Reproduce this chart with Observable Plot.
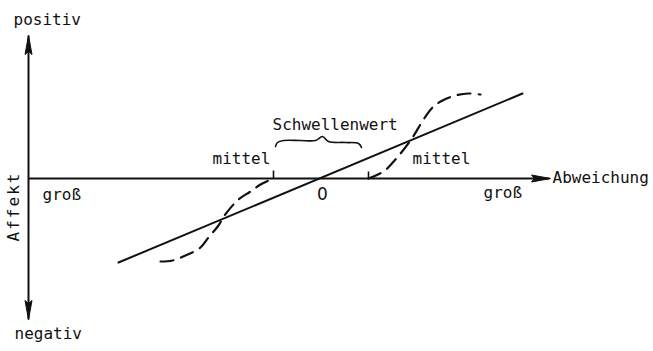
<!DOCTYPE html>
<html>
<head>
<meta charset="utf-8">
<script src="https://cdn.jsdelivr.net/npm/d3@7"></script>
<script src="https://cdn.jsdelivr.net/npm/@observablehq/plot@0.6"></script>
<style>
  html, body { margin: 0; padding: 0; background: #fff; }
  #chart svg { display: block; }
</style>
</head>
<body>
<div id="chart"></div>
<script>
// Coordinates: x = deviation (Abweichung), y = affect (Affekt); origin at "0"
const axisSegments = [
  {x1: -292, y1: -141, x2: -292, y2: 143},   // Affekt axis
  {x1: -292, y1: 0, x2: 229, y2: 0}          // Abweichung axis
];
const arrowTips = [
  {x: -292, y: 143, rotate: 0},
  {x: -292, y: -141, rotate: 180},
  {x: 230, y: 0, rotate: 90}
];
const linearLine = [
  {x: -202, y: -84},
  {x: 202, y: 85}
];
const dashedLeft = [
  {x: -160, y: -83}, {x: -148, y: -82}, {x: -135, y: -77}, {x: -120, y: -69},
  {x: -112, y: -59}, {x: -102, y: -47}, {x: -96, y: -37}, {x: -82, y: -21},
  {x: -70, y: -13}, {x: -60, y: -6}, {x: -47, y: 0}
];
const dashedRight = [
  {x: 48, y: 0}, {x: 63, y: 7}, {x: 75, y: 19}, {x: 92, y: 41},
  {x: 103, y: 59}, {x: 113, y: 72}, {x: 122, y: 78}, {x: 135, y: 83},
  {x: 148, y: 85}, {x: 160, y: 84}
];
const thresholdTicks = [
  {x: -47, y1: 0, y2: 8},
  {x: 48, y1: 0, y2: 7}
];
const brace = [
  {x: -45, y: 32}, {x: -43, y: 36}, {x: -37, y: 38}, {x: -20, y: 38},
  {x: -5, y: 38}, {x: 2, y: 42}, {x: 8, y: 37}, {x: 25, y: 36},
  {x: 38, y: 35}, {x: 41, y: 31}
];
const startLabels = [
  {x: -307, y: 159, text: "positiv"},
  {x: -306, y: -155, text: "negativ"},
  {x: -278, y: -16, text: "groß"},
  {x: 163, y: -14, text: "groß"},
  {x: -108, y: 20, text: "mittel"},
  {x: 92, y: 20, text: "mittel"},
  {x: -48, y: 54, text: "Schwellenwert"},
  {x: 232, y: 1, text: "Abweichung"}
];
const centerLabels = [
  {x: 2, y: -16, text: "0", rotate: 0},
  {x: -307, y: -28, text: "Affekt", rotate: -90}
];

const arrowSymbol = {
  draw(context) {
    context.moveTo(0, 0);
    context.lineTo(-3.5, 19);
    context.lineTo(0, 16);
    context.lineTo(3.5, 19);
    context.closePath();
  }
};

const ink = "#111";
const chart = Plot.plot({
  width: 653,
  height: 351,
  margin: 0,
  x: {domain: [-320, 333], axis: null},
  y: {domain: [-173, 178], axis: null},
  style: {fontFamily: "DejaVu Sans Mono", background: "#fff"},
  marks: [
    Plot.link(axisSegments, {x1: "x1", y1: "y1", x2: "x2", y2: "y2", stroke: ink, strokeWidth: 2}),
    Plot.dot(arrowTips, {x: "x", y: "y", rotate: "rotate", symbol: arrowSymbol, fill: ink, stroke: ink, strokeWidth: 1, r: 5}),
    Plot.link(thresholdTicks, {x1: "x", x2: "x", y1: "y1", y2: "y2", stroke: ink, strokeWidth: 1.6}),
    Plot.line(linearLine, {x: "x", y: "y", stroke: ink, strokeWidth: 2}),
    Plot.line(dashedLeft, {x: "x", y: "y", stroke: ink, strokeWidth: 2.2, strokeDasharray: "13,8", curve: "catmull-rom"}),
    Plot.line(dashedRight, {x: "x", y: "y", stroke: ink, strokeWidth: 2.2, strokeDasharray: "13,8", curve: "catmull-rom"}),
    Plot.line(brace, {x: "x", y: "y", stroke: ink, strokeWidth: 1.6, curve: "catmull-rom"}),
    Plot.text(startLabels, {x: "x", y: "y", text: "text", textAnchor: "start", fontSize: 16, fill: ink}),
    Plot.text(centerLabels, {x: "x", y: "y", text: "text", rotate: "rotate", textAnchor: "middle", fontSize: 16, fill: ink})
  ]
});
d3.select(chart).selectAll("text").filter(function() { return this.textContent === "Affekt"; })
  .style("letter-spacing", "2px");
d3.select(chart).selectAll("text").filter(function() { return this.textContent === "0"; })
  .style("font-family", "'DejaVu Sans'").style("font-size", "17px");
document.getElementById("chart").appendChild(chart);
</script>
</body>
</html>
